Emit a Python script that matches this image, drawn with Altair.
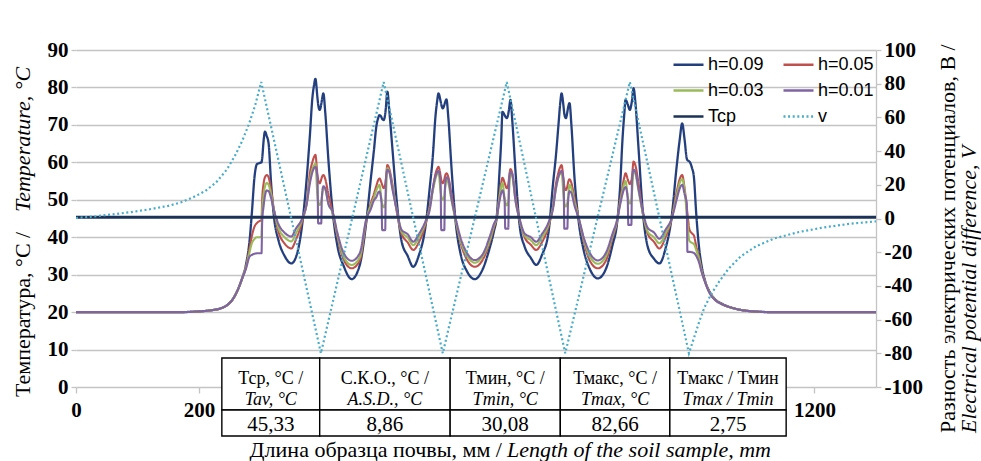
import altair as alt
import pandas as pd

# ---------------- data ----------------
X_MM = [
    0, 100, 170, 200, 220, 235, 245, 255, 263, 270,
    276, 282, 286, 290, 294, 298, 301.5, 302.5, 305, 307, 310, 313, 317, 322, 329, 339, 350,
    357, 368, 375, 380, 384, 387, 389, 392.5, 393.5, 396, 398.5, 399.5, 402, 405, 410, 417, 425, 435,
    448,
    461, 472, 479, 484, 488, 491, 493, 496.5, 497.5, 500, 502.5, 503.5, 506, 509, 514, 521, 529, 539,
    548,
    557, 568, 575, 580, 584, 587, 589, 592.5, 593.5, 596, 598.5, 599.5, 602, 605, 610, 617, 625, 635,
    648,
    661, 672, 679, 684, 688, 691, 693, 696.5, 697.5, 700, 702.5, 703.5, 706, 709, 714, 721, 729, 739,
    748,
    757, 768, 775, 780, 784, 787, 789, 792.5, 793.5, 796, 798.5, 799.5, 802, 805, 810, 817, 825, 835,
    848,
    861, 872, 879, 884, 888, 891, 893, 896.5, 897.5, 900, 902.5, 903.5, 906, 909, 914, 921, 929, 939,
    948, 958, 968, 976, 981, 985, 989, 992.5, 993.5, 997, 1001, 1004, 1008, 1012, 1017, 1022, 1028,
    1038, 1050, 1065, 1080, 1100, 1130, 1200, 1300,
]

H009 = [
    20, 20, 20, 20.2, 20.5, 21, 21.8, 23.5, 26, 29,
    32.5, 39, 47, 56, 59.5, 59.8, 60, 61, 66, 68.2, 67, 65, 54.5, 45, 39.2, 35, 33,
    34.5, 44, 56, 67, 77, 80.8, 82.3, 77, 75.5, 74, 75.5, 76.5, 78.4, 73.4, 61, 47, 37.5, 32.3,
    28.8,
    32.5, 44.5, 55.5, 63, 69.5, 71.8, 72.6, 72, 71.6, 71.3, 73, 74.5, 78.9, 74, 64, 50, 39, 35,
    32.1,
    35.1, 43, 53.5, 62, 72, 76.5, 78.4, 76.3, 75.5, 74.4, 75.3, 75.9, 76.8, 72, 59, 44, 35.5, 31,
    28.8,
    31.5, 37, 41.5, 46, 57, 66, 73.5, 72.6, 72.3, 71.8, 73, 74, 76.7, 71, 58, 43, 37.5, 34.5,
    32.6,
    35.2, 41.5, 54, 62, 70, 76, 78.4, 74.5, 73, 71.8, 73.5, 74.5, 75.8, 70, 56, 44, 36.5, 31.5,
    29,
    31.5, 38, 43.5, 53, 66, 73, 76.7, 75.5, 75, 74, 75.5, 76.5, 79.8, 76, 64, 47, 37.5, 34.3,
    33, 37, 45.5, 58.8, 66, 70.4, 66, 61, 60.6, 60.2, 58.5, 56.2, 46, 38, 32, 28.5, 25.9,
    23.5, 22.2, 21.2, 20.6, 20.2, 20, 20, 20,
]

H005 = [
    20, 20, 20, 20.2, 20.5, 21, 21.8, 23.5, 26, 29,
    32, 37, 40.5, 42.8, 43.8, 44.3, 44.6, 50, 54.5, 56, 56.6, 56, 52.5, 47, 41.5, 38.3, 37,
    39.2, 44.5, 49.5, 57, 60, 61.5, 62, 56.4, 55.4, 54.4, 55.4, 56, 56.6, 55.6, 51.6, 46.5, 40, 34,
    31.7,
    33.7, 44.5, 49, 51.5, 53.7, 55.2, 55.7, 54.5, 54, 53.1, 54.1, 55.5, 59.3, 58.3, 54.3, 47, 41, 38.6,
    36.6,
    38.6, 43.5, 48.5, 53, 56.8, 58.3, 58.8, 56.4, 55.4, 54.4, 55.4, 56.2, 57.1, 56.1, 51.5, 44.5, 38.5, 34.1,
    32.1,
    34, 38.5, 42.5, 45.5, 51, 54.5, 55.9, 54.5, 54, 53.1, 54.1, 55.5, 58.2, 57, 51, 44.5, 40, 38,
    36.6,
    38.6, 43, 48, 54.3, 57.3, 58.8, 59.3, 55, 53.6, 52.6, 53.6, 54.5, 55.5, 54.5, 50.5, 45, 39, 33.7,
    31.7,
    33.7, 40, 44, 49.5, 53.5, 56, 57.1, 55.5, 55, 54.2, 55.2, 56.2, 60.2, 59.2, 54.5, 46.5, 41, 38.8,
    37, 40, 45, 52, 55.5, 56.6, 53, 48, 46.5, 42, 41, 40.5, 37.5, 35, 31, 28.3, 25.8,
    23.4, 22.1, 21.2, 20.6, 20.2, 20, 20, 20,
]

H003 = [
    20, 20, 20, 20.2, 20.5, 21, 21.8, 23.5, 26, 29,
    31.8, 36, 38.5, 39.5, 40, 40, 40.2, 47, 51.5, 53.5, 54.5, 54, 51.5, 47, 42.5, 40, 38.9,
    40.9, 45, 49, 55.2, 58.2, 59.2, 59.7, 50.6, 49.6, 48.6, 49.6, 50.6, 53.3, 52.8, 49, 46.5, 40.5, 34.8,
    32.6,
    34.6, 45, 48.5, 50.5, 52.5, 53.5, 54, 50, 49, 48, 49, 51, 58.5, 57.5, 53.5, 47.5, 41.5, 39.9,
    37.9,
    39.9, 44, 48, 52.5, 55.5, 57, 57.5, 52, 51, 50, 51, 52.5, 55.5, 54.5, 50, 44.5, 39, 35.2,
    33.2,
    35, 39, 43, 45.5, 50.5, 53.5, 54.5, 50.5, 49.5, 48.5, 49.5, 51.5, 57.5, 56.3, 50, 44.5, 40.5, 39.2,
    37.9,
    39.9, 43.5, 48, 53, 56, 57, 57.5, 50.5, 49.2, 48.2, 49.2, 50.5, 54, 53, 49.5, 45, 39.5, 34.9,
    32.9,
    34.9, 40.5, 44.2, 49, 52.5, 54.3, 55, 51, 50, 49, 50, 52, 57.9, 57, 52.5, 46.5, 41.5, 40,
    38.4, 41, 45, 51, 54.5, 55.5, 52.5, 46, 44, 39, 38.5, 38.2, 36.5, 34.5, 30.8, 28.2, 25.7,
    23.4, 22.1, 21.2, 20.6, 20.2, 20, 20, 20,
]

H001 = [
    20, 20, 20, 20.2, 20.5, 21, 21.8, 23.5, 26, 29,
    31.5, 34.8, 35.3, 35.6, 35.7, 35.7, 35.7, 44, 48.5, 51, 52.5, 52.3, 50.5, 47, 43.5, 41.2, 40.2,
    42.2, 45.2, 49, 54.3, 57.3, 58.5, 58.8, 55.8, 43.7, 43.7, 43.7, 50.6, 53.6, 53.1, 49, 46.8, 41, 35.8,
    33.7,
    35.7, 45, 47.5, 49.8, 50.7, 51.9, 52.2, 49.2, 41.9, 41.9, 41.9, 55, 58, 57.5, 53, 47.5, 42, 40.8,
    38.8,
    40.8, 44.3, 47.5, 53.2, 56.2, 57.4, 57.7, 54.7, 41.9, 41.9, 41.9, 53, 56, 55.5, 50.5, 45, 39.8, 35.9,
    33.9,
    35.5, 40, 43.5, 45.5, 49.5, 51.8, 52.5, 49.5, 42.3, 42.3, 42.3, 54.5, 57.5, 56.8, 50, 44.8, 41, 40,
    38.8,
    40.8, 44, 47.5, 53.2, 56.2, 57.4, 57.7, 54.7, 42.3, 42.3, 42.3, 49.3, 52.3, 51.8, 48.5, 45, 40, 35.8,
    33.8,
    35.8, 41, 44.5, 48.5, 51.5, 53, 53.4, 50.4, 43.3, 43.3, 43.3, 55, 58, 57.5, 53, 47, 42.5, 41.3,
    39.6, 42, 45, 50, 53, 54, 51.5, 49, 36.1, 36.1, 36, 35.8, 35, 33.5, 30.5, 28.1, 25.6,
    23.3, 22.1, 21.2, 20.6, 20.2, 20, 20, 20,
]

TCP_X = [0, 1300]
TCP = [45.33, 45.33]

V_X = [0, 30, 60, 90, 120, 150, 170, 190, 210, 228, 245, 258, 270, 281, 291, 301,
       398, 500, 596, 700, 795, 900, 996,
       1005, 1013, 1021, 1032, 1045, 1060, 1080, 1105, 1135, 1175, 1215, 1258, 1300]
V = [0.3, 1.2, 2.5, 3.8, 5.5, 7.5, 9.5, 12.5, 16.3, 21.5, 29, 37, 46, 56, 67, 81,
     -80, 81, -80, 81, -80, 81, -80,
     -70, -61, -53, -45, -37.5, -30, -22.5, -16.5, -11.8, -8, -5.3, -3.1, -1.7]

SERIES = ["h=0.09", "h=0.05", "h=0.03", "h=0.01", "Tcp", "v"]
COLORS = ["#233F7E", "#C0504D", "#9BBB59", "#8064A2", "#1C3357", "#4BACC6"]
DASHES = [[1, 0], [1, 0], [1, 0], [1, 0], [1, 0], [2, 2.6]]

# ticks 400-1000 sit behind the statistics table, so only the visible ones are drawn
X_TICKS = [0, 200, 1200]
T_TICKS = [0, 10, 20, 30, 40, 50, 60, 70, 80, 90]
V_TICKS = [-100, -80, -60, -40, -20, 0, 20, 40, 60, 80, 100]

TABLE_EDGES = [237, 396, 608, 787, 965, 1154]
TABLE_HEAD1 = ["Тср, °C /", "С.К.О., °C /", "Тмин, °C /", "Тмакс, °C /", "Тмакс / Тмин"]
TABLE_HEAD2 = ["Tav, °C", "A.S.D., °C", "Tmin, °C", "Tmax, °C", "Tmax / Tmin"]
TABLE_VALUES = ["45,33", "8,86", "30,08", "82,66", "2,75"]

XTITLE_RU = "Длина образца почвы, мм /"
XTITLE_EN = "Length of the soil sample, mm"
YTITLE_RU = "Температура, °C /"
YTITLE_EN = "Temperature, °C"
Y2TITLE_RU = "Разность электрических потенциалов, В /"
Y2TITLE_EN = "Electrical potential difference, V"

assert all(len(s) == len(X_MM) for s in (H009, H005, H003, H001))
assert len(V_X) == len(V)

# ---------------- styling ----------------
SERIF = "Liberation Serif"
SANS = "Liberation Sans"
GRID = "#C4C4C4"

x_scale = alt.Scale(domain=[0, 1300], nice=False, zero=False)
x_axis = alt.Axis(values=X_TICKS, title=None, grid=False, domain=False, ticks=True,
                  tickColor=GRID, tickSize=6, tickWidth=1.3, labelFont=SERIF,
                  labelFontWeight="bold", labelFontSize=21, labelColor="black",
                  labelPadding=6, labelFlush=False, format="d", zindex=0)


def X(field):
    return alt.X(field, type="quantitative", scale=x_scale, axis=x_axis)


legend = alt.Legend(title=None, orient="none", legendX=596, legendY=-2, columns=2,
                    direction="horizontal",
                    symbolType="stroke", symbolSize=900, symbolStrokeWidth=2.5,
                    labelFont=SANS, labelFontSize=18, labelColor="black", labelOffset=3,
                    columnPadding=14, rowPadding=-6, padding=0)
color = alt.Color("series:N", scale=alt.Scale(domain=SERIES, range=COLORS), legend=legend)
dash = alt.StrokeDash("series:N", scale=alt.Scale(domain=SERIES, range=DASHES), legend=legend)

t_scale = alt.Scale(domain=[0, 90], nice=False, zero=False)
t_axis = alt.Axis(values=T_TICKS, title=None, grid=True, gridColor=GRID, gridWidth=1.3,
                  domain=False, ticks=True, tickColor=GRID, tickSize=5, tickWidth=1.3,
                  labelFont=SERIF, labelFontWeight="bold", labelFontSize=21,
                  labelColor="black", labelPadding=3, zindex=0)
v_axis = alt.Axis(values=V_TICKS, orient="right", title=None, grid=False, domain=True,
                  domainColor=GRID, domainWidth=1.3, ticks=True, tickColor=GRID, tickSize=5,
                  tickWidth=1.3, labelFont=SERIF, labelFontWeight="bold", labelFontSize=21,
                  labelColor="black", labelPadding=3, labelExpr="toString(datum.value)", zindex=0)

layers = []
for i, (name, vals) in enumerate([("h=0.09", H009), ("h=0.05", H005),
                                   ("h=0.03", H003), ("h=0.01", H001)]):
    df = pd.DataFrame({"x": X_MM, "T": vals, "series": name})
    layers.append(
        alt.Chart(df).mark_line(interpolate="monotone", strokeWidth=2.3 if i == 0 else 2.1).encode(
            x=X("x"),
            y=alt.Y("T:Q", scale=t_scale, axis=t_axis if i == 0 else None),
            color=color, strokeDash=dash,
        )
    )

df_tcp = pd.DataFrame({"x": TCP_X, "T": TCP, "series": "Tcp"})
layers.append(
    alt.Chart(df_tcp).mark_line(strokeWidth=2.8).encode(
        x=X("x"), y=alt.Y("T:Q", scale=t_scale, axis=None), color=color, strokeDash=dash)
)

df_v = pd.DataFrame({"x": V_X, "v": V, "series": "v"})
layers.append(
    alt.Chart(df_v).mark_line(strokeWidth=2.2).encode(
        x=X("x"),
        y=alt.Y("v:Q", scale=alt.Scale(domain=[-100, 100], nice=False, zero=False), axis=v_axis),
        color=color, strokeDash=dash)
)

# ---------------- table ----------------
df_tab = pd.DataFrame({
    "x0": TABLE_EDGES[:-1], "x1": TABLE_EDGES[1:],
    "xc": [(a + b) / 2 for a, b in zip(TABLE_EDGES[:-1], TABLE_EDGES[1:])],
    "h1": TABLE_HEAD1, "h2": TABLE_HEAD2, "val": TABLE_VALUES,
})
tab = alt.Chart(df_tab)
layers.append(tab.mark_rect(fill="white", stroke="black", strokeWidth=1.4).encode(
    x=X("x0"), x2="x1", y=alt.value(308), y2=alt.value(360)))
layers.append(tab.mark_rect(fill="white", stroke="black", strokeWidth=1.4).encode(
    x=X("x0"), x2="x1", y=alt.value(360), y2=alt.value(386)))
layers.append(tab.mark_text(font=SERIF, fontSize=18, baseline="alphabetic", color="black").encode(
    x=X("xc"), y=alt.value(334), text="h1:N"))
layers.append(tab.mark_text(font=SERIF, fontSize=18, fontStyle="italic", baseline="alphabetic",
                            color="black").encode(x=X("xc"), y=alt.value(355), text="h2:N"))
layers.append(tab.mark_text(font=SERIF, fontSize=21, baseline="alphabetic", color="black").encode(
    x=X("xc"), y=alt.value(381), text="val:N"))


# ---------------- axis titles ----------------
def label(text, x, y, **kw):
    return alt.Chart(pd.DataFrame({"t": [text]})).mark_text(
        font=SERIF, fontSize=22, color="black", **kw).encode(
        text="t:N", x=alt.value(x), y=alt.value(y))


layers.append(label(XTITLE_RU, 426, 407, align="right", baseline="alphabetic"))
layers.append(label(XTITLE_EN, 431, 407, align="left", baseline="alphabetic", fontStyle="italic"))
layers.append(label(YTITLE_RU, -53, 347, align="left", baseline="middle", angle=270))
layers.append(label(YTITLE_EN, -53, 162, align="left", baseline="middle", angle=270,
                    fontStyle="italic"))
layers.append(label(Y2TITLE_RU, 872, 383, align="left", baseline="middle", angle=270))
layers.append(label(Y2TITLE_EN, 893, 383, align="left", baseline="middle", angle=270,
                    fontStyle="italic"))

chart = alt.layer(*layers).resolve_scale(y="independent").properties(
    width=800, height=337,
    autosize=alt.AutoSizeParams(type="none"),
    padding={"left": 76, "top": 50, "right": 105, "bottom": 74},
    background="white",
).configure_view(stroke=None)

chart.save("out.html", embed_options={"renderer": "svg", "actions": False})
